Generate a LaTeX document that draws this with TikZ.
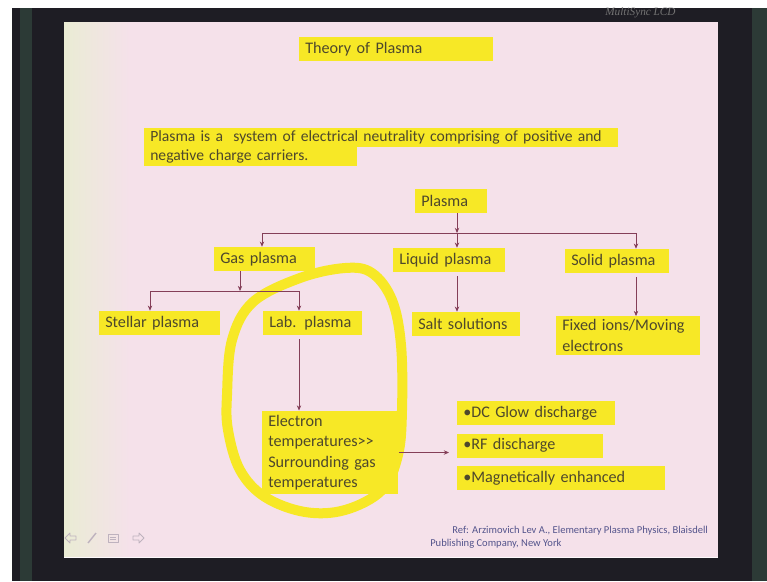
\documentclass[tikz,border=0pt]{standalone}
\usepackage{fontspec}
\setmainfont{Carlito}
\newfontfamily\bezelfont{Liberation Serif}
\usepackage{tikz}
\usetikzlibrary{arrows.meta, positioning, calc}
\definecolor{cHigh}{RGB}{247,232,38}
\definecolor{cInk}{RGB}{78,72,44}
\definecolor{cArrow}{RGB}{132,62,88}
\definecolor{cSlide}{RGB}{245,225,234}
\definecolor{cSlideLeft}{RGB}{234,236,212}
\definecolor{cBezel}{RGB}{30,29,36}
\definecolor{cBezelGreen}{RGB}{44,58,54}
\definecolor{cRef}{RGB}{84,84,140}
\definecolor{cNav}{RGB}{190,178,190}
\newcommand{\slidefont}{\fontsize{11.5}{14.6}\selectfont}
\newcommand{\parfont}{\fontsize{11.1}{13.5}\selectfont}
\newcommand{\reffont}{\fontsize{7.5}{9.4}\selectfont}
\tikzset{
	hl/.style      ={rectangle, fill=cHigh, text=cInk, anchor=west, align=left, inner xsep=0.15cm, inner ysep=0.08cm, minimum height=0.6cm, font=\slidefont},
	parline/.style ={hl, minimum height=0.475cm, inner ysep=0.03cm, font=\parfont},
	sig/.style     ={-{Stealth[length=1.3mm, width=1.1mm]}, cArrow, line width=0.5pt},
	wire/.style    ={cArrow, line width=0.5pt},
	% hand drawn highlighter
	marker/.style  ={cHigh, line width=0.25cm, line cap=round, line join=round},
	reftext/.style ={text=cRef, font=\reffont, align=left, inner sep=0pt, anchor=north west},
	bezel/.style   ={text=black!55, font=\bezelfont\itshape\fontsize{8}{9}\selectfont, anchor=west, inner sep=0pt},
	navicon/.style ={draw=cNav, line width=0.6pt, line join=round},
}
\begin{document}
\begin{tikzpicture}[x=0.025cm, y=-0.025cm]
	\useasboundingbox (0,0) rectangle (767,581);
	% monitor frame
	\fill[white] (0,0) rectangle (767,581);
	\fill[cBezel] (12,8) rectangle (767,581);
	\fill[cBezelGreen] (20,8) rectangle (32,581);
	\fill[cBezelGreen] (752,8) rectangle (767,581);
	\node[bezel] (brand) at (605,13) {MultiSync LCD};
	% slide
	\fill[cSlide] (64,22) rectangle (718,557);
	\shade[left color=cSlideLeft, right color=cSlide] (64,22) rectangle (130,557);
	\draw[white!80!cSlide, line width=0.6pt] (64,557) -- (718,557);
	% loop round the lab plasma branch
	\draw[marker] plot[smooth cycle, tension=0.6] coordinates {(227,395) (232,340) (253,302) (300,278) (345,268) (372,273) (392,300) (401,345) (402,410) (398,455) (382,490) (345,510) (305,512) (265,497) (240,470) (228,430)};
	% texts
	\node[hl, text width=4.55cm] (title) at (299,49) {Theory of Plasma};
	\node[parline, text width=11.55cm] (par1) at (144,137) {Plasma is a \ system of electrical neutrality comprising of positive and};
	\node[parline, text width=5.025cm] (par2) at (144,156) {negative charge carriers.};
	\node[hl, text width=1.5cm] (plasma) at (415,201) {Plasma};
	\node[hl, text width=2.225cm] (gas) at (214,259) {Gas plasma};
	\node[hl, text width=2.5cm] (liquid) at (393,260) {Liquid plasma};
	\node[hl, text width=2.3cm] (solid) at (565,261) {Solid plasma};
	\node[hl, text width=2.725cm] (stellar) at (99,323) {Stellar plasma};
	\node[hl, text width=2.175cm] (lab) at (263,323) {Lab. plasma};
	\node[hl, text width=2.4cm] (salt) at (412,324) {Salt solutions};
	\node[hl, text width=3.3cm] (fixed) at (556,335.5) {Fixed ions/Moving\\electrons};
	\node[hl, text width=3.1cm, inner ysep=0.1cm] (electron) at (262,452.5) {Electron\\temperatures>{}>\\Surrounding gas\\temperatures};
	\node[hl, text width=3.65cm] (dc) at (457,413) {\textbullet{}DC Glow discharge};
	\node[hl, text width=3.35cm, below=0.2cm of dc.south west, anchor=north west] (rf) {\textbullet{}RF discharge};
	\node[hl, text width=4.9cm, below=0.2cm of rf.south west, anchor=north west] (mag) {\textbullet{}Magnetically enhanced};
	% tree
	\coordinate (jTop) at (457,233);
	\coordinate (jGas) at (262,233);
	\coordinate (jSolid) at (636,233);
	\coordinate (jSub) at (240,291);
	\coordinate (jStellar) at (150,291);
	\coordinate (jLab) at (299,291);
	\draw[sig] (plasma.south -| jTop) -- (jTop);
	\draw[wire] (jGas) -- (jSolid);
	\draw[sig] (jGas) -- (jGas |- gas.north);
	\draw[sig] (jTop) -- (jTop |- liquid.north);
	\draw[sig] (jSolid) -- (jSolid |- solid.north);
	\draw[sig] (gas.south -| jSub) -- (jSub);
	\draw[wire] (jStellar) -- (jLab);
	\draw[sig] (jStellar) -- (jStellar |- stellar.north);
	\draw[sig] (jLab) -- (jLab |- lab.north);
	\draw[sig, shorten <=0.1cm] (lab.south -| jLab) -- (jLab |- electron.north);
	\draw[sig, shorten <=0.1cm] (liquid.south -| jTop) -- (jTop |- salt.north);
	\draw[sig, shorten <=0.1cm] (solid.south -| jSolid) -- (jSolid |- fixed.north);
	\draw[sig, shorten >=0.2cm] (electron.east) -- (electron.east -| rf.west);
	% reference
	\node[reftext] (ref) at (430,526) {\hspace*{0.55cm}Ref: Arzimovich Lev A., Elementary Plasma Physics, Blaisdell\\Publishing Company, New York};
	% slide show buttons
	\draw[navicon] (65,538) -- (70,533) -- (70,536) -- (76,536) -- (76,540) -- (70,540) -- (70,543) -- cycle;
	\draw[navicon, line width=1pt] (88,543) -- (96,533);
	\draw[navicon] (108,534) rectangle (118,542);
	\draw[navicon] (110,537) -- (116,537) (110,539.5) -- (116,539.5);
	\draw[navicon] (144,538) -- (139,533) -- (139,536) -- (133,536) -- (133,540) -- (139,540) -- (139,543) -- cycle;
\end{tikzpicture}
\end{document}
